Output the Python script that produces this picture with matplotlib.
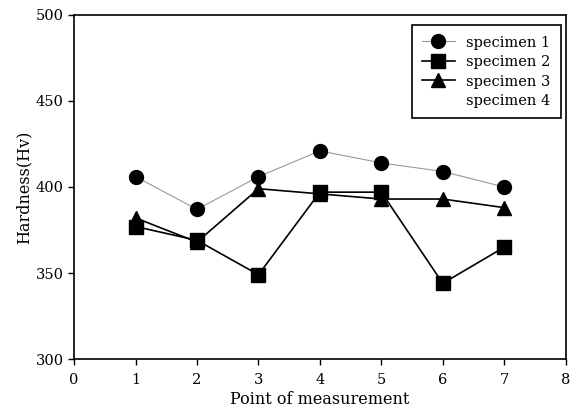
import matplotlib
matplotlib.use("Agg")
import matplotlib.pyplot as plt

points = [1, 2, 3, 4, 5, 6, 7]
specimen1 = [406, 387, 406, 421, 414, 409, 400]
specimen2 = [377, 369, 349, 397, 397, 344, 365]
specimen3 = [382, 368, 399, 396, 393, 393, 388]
specimen4 = []

plt.rcParams['font.family'] = ['DejaVu Serif']

fig = plt.figure(figsize=(5.79, 4.16), dpi=100)
ax = fig.add_axes([0.128, 0.137, 0.849, 0.827])

ax.plot(points, specimen1, color='#999999', lw=0.8, marker='o', ms=10,
        mfc='black', mec='black', label='specimen 1')
ax.plot(points, specimen2, color='black', lw=1.2, marker='s', ms=10,
        mfc='black', mec='black', label='specimen 2')
ax.plot(points, specimen3, color='black', lw=1.2, marker='^', ms=10,
        mfc='black', mec='black', label='specimen 3')
ax.plot(points[:len(specimen4)], specimen4, color='none', label='specimen 4')

ax.set_xlim(0, 8)
ax.set_ylim(300, 500)
ax.set_xticks(range(0, 9))
ax.set_yticks(range(300, 501, 50))
ax.tick_params(direction='out', length=4, labelsize=10.5, width=1)
ax.tick_params(axis='x', pad=6)
for s in ax.spines.values():
    s.set_linewidth(1.2)

ax.set_xlabel('Point of measurement', fontsize=11.5, labelpad=3)
ax.set_ylabel('Hardness(Hv)', fontsize=11.5, labelpad=2)

leg = ax.legend(loc='upper right', fontsize=10.5, fancybox=False, framealpha=1,
                edgecolor='black', handlelength=2.2, borderpad=0.7,
                labelspacing=0.38, borderaxespad=0,
                bbox_to_anchor=(0.99, 0.97))
leg.get_frame().set_linewidth(1.2)

fig.savefig('out.png', dpi=100)
